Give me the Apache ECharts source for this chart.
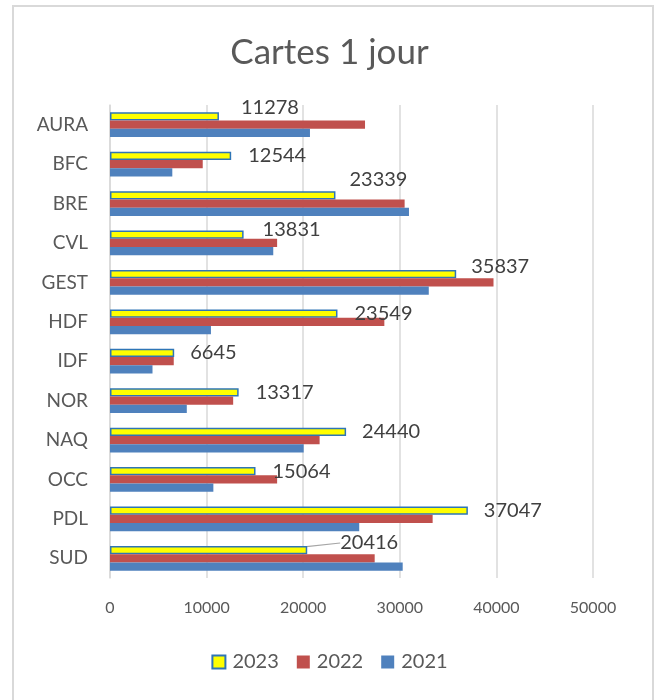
<!DOCTYPE html>
<html>
<head>
<meta charset="utf-8">
<script src="https://cdn.jsdelivr.net/npm/echarts@6/dist/echarts.min.js"></script>
<style>
  html, body { margin: 0; padding: 0; background: #fff; }
  #chart { width: 659px; height: 700px; }
</style>
</head>
<body>
<div id="chart"></div>
<script>
var regions = ['AURA', 'BFC', 'BRE', 'CVL', 'GEST', 'HDF', 'IDF', 'NOR', 'NAQ', 'OCC', 'PDL', 'SUD'];
var years = ['2023', '2022', '2021'];
var cartes2023 = [11278, 12544, 23339, 13831, 35837, 23549, 6645, 13317, 24440, 15064, 37047, 20416];
var cartes2022 = [26400, 9600, 30500, 17300, 39700, 28400, 6600, 12750, 21700, 17300, 33400, 27400];
var cartes2021 = [20700, 6450, 30950, 16900, 33000, 10450, 4400, 7950, 20050, 10700, 25800, 30300];
var xTicks = [0, 10000, 20000, 30000, 40000, 50000];

// small nudges for the 2023 labels, as Excel placed them
var labelNudge = [[6, -9], [1, 0], [-2, -16], [3, -5], [-1, -8], [1, 0],
                  [0, 0], [1, 0], [0, 0], [1, 0], [0, 0], [17, -7]];

var textColor = '#595959';
var chart = echarts.init(document.getElementById('chart'));

var option = {
  animation: false,
  title: {
    text: 'Cartes 1 jour',
    left: 'center',
    top: 30,
    textStyle: { fontFamily: 'Lato', fontSize: 35, fontWeight: 'normal', color: textColor }
  },
  graphic: [{
    type: 'rect',
    shape: { x: 13, y: 6, width: 640, height: 720 },
    style: { fill: 'none', stroke: '#d9d9d9', lineWidth: 2 },
    silent: true
  }],
  legend: {
    data: years,
    bottom: 23,
    left: 'center',
    icon: 'rect',
    itemWidth: 13,
    itemHeight: 13,
    itemGap: 18,
    textStyle: { fontFamily: 'Lato', fontSize: 20, color: textColor, padding: [0, 0, 0, 2] }
  },
  grid: { left: 110, right: 66, top: 105, bottom: 122 },
  xAxis: {
    type: 'value',
    min: xTicks[0],
    max: xTicks[xTicks.length - 1],
    interval: 10000,
    axisLine: { show: false },
    axisTick: { show: false },
    axisLabel: {
      margin: 22, fontFamily: 'Lato', fontSize: 16, color: textColor,
      formatter: function (v) { return String(v); }
    },
    splitLine: { lineStyle: { color: '#d9d9d9', width: 1.5 } }
  },
  yAxis: {
    type: 'category',
    data: regions,
    inverse: true,
    axisLine: { lineStyle: { color: '#d9d9d9', width: 1.5 } },
    axisTick: { show: false },
    axisLabel: { margin: 22, fontFamily: 'Lato', fontSize: 19, color: textColor }
  },
  series: [
    {
      name: years[0],
      type: 'bar',
      data: cartes2023.map(function (v, i) {
        return { value: v, labelLine: { show: i === 11 } };
      }),
      barGap: '0%',
      barCategoryGap: '37%',
      itemStyle: { color: '#ffff00', borderColor: '#2e75b6', borderWidth: 1.5 },
      label: {
        show: true,
        position: 'right',
        distance: 16,
        fontFamily: 'Lato',
        fontSize: 20,
        color: '#404040'
      },
      labelLine: { show: false, lineStyle: { color: '#a6a6a6', width: 1.2 } },
      labelLayout: function (p) {
        var n = labelNudge[p.dataIndex];
        return { dx: n[0], dy: n[1] };
      }
    },
    {
      name: years[1],
      type: 'bar',
      data: cartes2022,
      itemStyle: { color: '#c0504d' }
    },
    {
      name: years[2],
      type: 'bar',
      data: cartes2021,
      itemStyle: { color: '#4f81bd' }
    }
  ]
};
chart.setOption(option);
</script>
</body>
</html>
